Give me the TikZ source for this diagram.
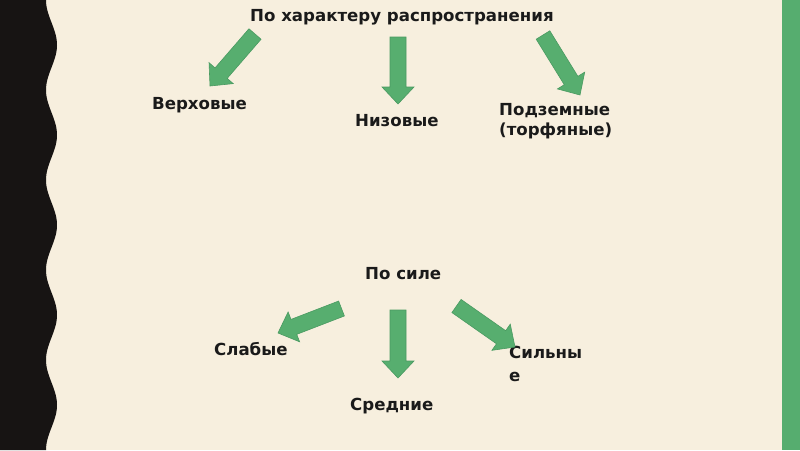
\documentclass[tikz,border=0pt]{standalone}
\usepackage{fontspec}
\setmainfont{DejaVu Sans}
\usetikzlibrary{calc}
\definecolor{bgcream}{HTML}{F7EFDE}
\definecolor{edgeblack}{HTML}{171413}
\definecolor{stripgreen}{HTML}{56AD6F}
\definecolor{arrowgreen}{HTML}{57AE6F}
\definecolor{arrowedge}{HTML}{4A9A61}
\definecolor{txt}{HTML}{1A1A1A}
\tikzset{
  lbl/.style={anchor=base west, inner sep=0pt, text=txt, font=\fontsize{16.6}{20}\selectfont\bfseries, align=left},
  blockarrow/.style={fill=arrowgreen, draw=arrowedge, line width=0.6pt, line join=miter}
}
\newcommand\blockarrow[2]{%
  \coordinate (hb) at ($(#2)!17pt!(#1)$);
  \draw[blockarrow] ($(#1)!8pt!90:(#2)$) -- ($(hb)!8pt!90:(#2)$) -- ($(hb)!16pt!90:(#2)$) -- (#2)
    -- ($(hb)!16pt!-90:(#2)$) -- ($(hb)!8pt!-90:(#2)$) -- ($(#1)!8pt!-90:(#2)$) -- cycle;
}
\begin{document}
\begin{tikzpicture}[x=1pt,y=-1pt]
\useasboundingbox (0,0) rectangle (800,450);
\fill[bgcream] (0,0) rectangle (800,450);
\fill[edgeblack] (0,0) -- plot[domain=0:450, samples=240] ({51.5-5.5*cos(4*\x)}, \x) -- (0,450) -- cycle;
\fill[stripgreen] (781.5,0) rectangle (800,450);

% texts
\node[lbl] (t1) at (250,21) {По характеру распространения};
\node[lbl] (v) at (152,109) {Верховые};
\node[lbl] (n) at (355,126) {Низовые};
\node[lbl] (p) at (499,135) {Подземные\\(торфяные)};
\node[lbl] (t2) at (365,279) {По силе};
\node[lbl] (s1) at (214,355) {Слабые};
\node[lbl] (s2) at (350,410) {Средние};
\node[lbl] (s3) at (509,381) {Сильны\\[3pt]е};

% arrows
\coordinate (a1s) at (255,34);   \coordinate (a1e) at (210,86);
\coordinate (a2s) at (398,37);   \coordinate (a2e) at (398,104);
\coordinate (a3s) at (543,35);   \coordinate (a3e) at (580,95);
\coordinate (b1s) at (341.5,308.5); \coordinate (b1e) at (278,333);
\coordinate (b2s) at (398,310);  \coordinate (b2e) at (398,378);
\coordinate (b3s) at (456.5,306); \coordinate (b3e) at (515,347);
\blockarrow{a1s}{a1e}
\blockarrow{a2s}{a2e}
\blockarrow{a3s}{a3e}
\blockarrow{b1s}{b1e}
\blockarrow{b2s}{b2e}
\blockarrow{b3s}{b3e}
\end{tikzpicture}
\end{document}
